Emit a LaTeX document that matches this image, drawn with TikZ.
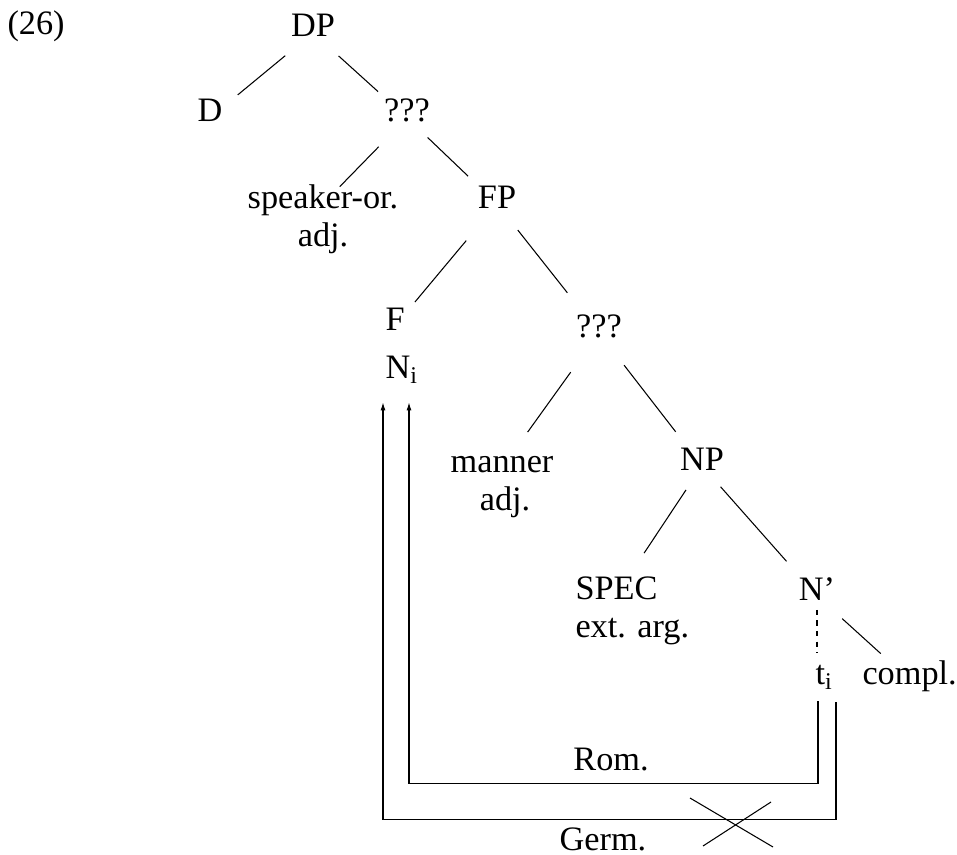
\documentclass[tikz,border=0pt]{standalone}
\usepackage{fontspec}
\setmainfont{Liberation Serif}
\usetikzlibrary{calc,arrows.meta}
\tikzset{
	lbl/.style={inner sep=0pt, text height=0.7em, text depth=0.22em, font=\fontsize{19.5}{23}\selectfont},
	move/.style={-{Latex[length=4.5pt,width=2.8pt]}},
}
\begin{document}
\begin{tikzpicture}[x=0.02cm,y=-0.02cm,line width=0.6pt]
			\useasboundingbox (0,0) rectangle (957,855);

			\node[lbl,anchor=base west] (ex) at (7,35) {(26)};
			\node[lbl,anchor=base] (dp) at (313,37) {DP};
			\node[lbl,anchor=base] (d) at (210,122) {D};
			\node[lbl,anchor=base] (q1) at (407,122) {???};

			\draw[shorten <=0.72cm, shorten >=0.72cm] (dp.center) -- (d.center);
			\draw[shorten <=0.69cm, shorten >=0.78cm] (dp.center) -- (q1.center);

			\node[lbl,anchor=base] (spk) at (323,208) {speaker-or.};
			\node[lbl,anchor=base] (spkadj) at (323,246) {adj.};
			\node[lbl,anchor=base] (fp) at (497,208) {FP};

			\draw[shorten <=0.81cm, shorten >=0.48cm] (q1.center) -- (spk.center);
			\draw[shorten <=0.57cm, shorten >=0.8cm] (q1.center) -- (fp.center);

			\node[lbl,anchor=base west] (f) at (385,330) {F};
			\node[lbl,anchor=base west] (ni) at (385,378) {N\textsubscript{i}};
			\node[lbl,anchor=base] (q2) at (599,337) {???};

			\draw[shorten <=0.96cm, shorten >=0.62cm] (fp.center) -- (f.center);
			\draw[shorten <=0.67cm, shorten >=1.02cm] (fp.center) -- (q2.center);

			\node[lbl,anchor=base] (man) at (502,472) {manner};
			\node[lbl,anchor=base] (manadj) at (505,510) {adj.};
			\node[lbl,anchor=base] (np) at (702,470) {NP};

			\draw[shorten <=0.97cm, shorten >=0.88cm] (q2.center) -- (man.center);
			\draw[shorten <=0.82cm, shorten >=0.86cm] (q2.center) -- (np.center);

			\node[lbl,anchor=base west] (spec) at (575,599) {SPEC};
			\node[lbl,anchor=base west] (ext) at (575,637) {ext. arg.};
			\node[lbl,anchor=base] (nbar) at (817,600) {N'};

			\draw[shorten <=0.58cm, shorten >=1.0cm] (np.center) -- (spec.center);
			\draw[shorten <=0.56cm, shorten >=0.92cm] (np.center) -- (nbar.center);

			\node[lbl,anchor=base west] (ti) at (815,684) {t\textsubscript{i}};
			\node[lbl,anchor=base west] (compl) at (862,684) {compl.};

			\draw[dashed, shorten <=0.11cm, shorten >=0.38cm] (nbar.south) -- (nbar.south |- ti.north);
			\draw[shorten <=0.68cm, shorten >=0.78cm] (nbar.center) -- (compl.center);

			\node[lbl,anchor=base] (rom) at (611,770) {Rom.};
			\node[lbl,anchor=base] (germ) at (603,850) {Germ.};

			\draw[move] ($(ti.south west)+(3,13)$) -- ++(0,82) -| ($(ni.south west)+(24,20)$);
			\draw[move] ($(ti.south west)+(21,14)$) -- ++(0,117) -| ($(ni.south west)+(-2,20)$);

			\coordinate (blocked) at (737,824);
			\draw (blocked) ++(-47,-26) -- ++(83,49);
			\draw (blocked) ++(34,-22) -- ++(-68,44);

		\end{tikzpicture}
\end{document}
